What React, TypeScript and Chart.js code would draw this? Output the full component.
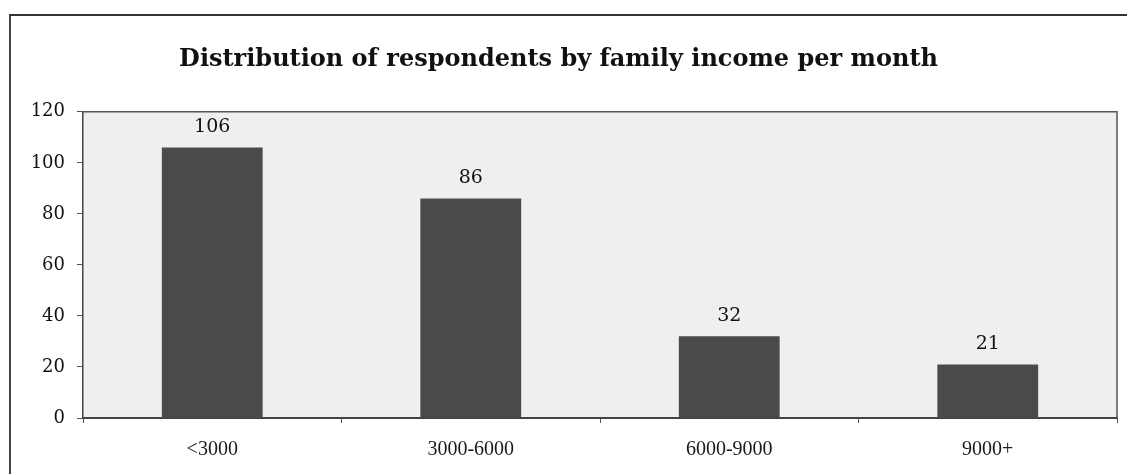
import React, { useEffect, useRef } from "react";
import { Chart, registerables } from "chart.js";

Chart.register(...registerables);

const TITLE = "Distribution of respondents by family income per month";
const categories = ["<3000", "3000-6000", "6000-9000", "9000+"];
const respondents = [106, 86, 32, 21];
const yTicks = [0, 20, 40, 60, 80, 100, 120];

const plotBg = {
  id: "plotBg",
  beforeDraw(chart: any) {
    const { ctx, chartArea: a } = chart;
    ctx.save();
    ctx.fillStyle = "#efefef";
    ctx.fillRect(a.left, a.top, a.right - a.left, a.bottom - a.top);
    ctx.restore();
  },
  afterDraw(chart: any) {
    const { ctx, chartArea: a } = chart;
    ctx.save();
    ctx.strokeStyle = "#555";
    ctx.lineWidth = 1.5;
    ctx.beginPath();
    ctx.moveTo(a.left, a.top);
    ctx.lineTo(a.right, a.top);
    ctx.lineTo(a.right, a.bottom);
    ctx.stroke();
    ctx.restore();
  },
};

const valueLabels = {
  id: "valueLabels",
  afterDatasetsDraw(chart: any) {
    const { ctx } = chart;
    const meta = chart.getDatasetMeta(0);
    ctx.save();
    ctx.fillStyle = "#111";
    ctx.font = "19px 'DejaVu Serif'";
    ctx.textAlign = "center";
    ctx.textBaseline = "bottom";
    meta.data.forEach((bar: any, i: number) => {
      ctx.fillText(String(chart.data.datasets[0].data[i]), bar.x, bar.y - 11);
    });
    ctx.restore();
  },
};

export default function App() {
  const ref = useRef<HTMLCanvasElement>(null);
  useEffect(() => {
    document.body.style.margin = "0";
    const chart = new Chart(ref.current!, {
      type: "bar",
      data: {
        labels: categories,
        datasets: [
          {
            data: respondents,
            backgroundColor: "#4a4a4a",
            borderColor: "#444",
            borderWidth: 0,
            categoryPercentage: 1,
            barPercentage: 0.39,
          },
        ],
      },
      options: {
        animation: false,
        responsive: false,
        maintainAspectRatio: false,
        layout: { padding: { left: 0, right: 10, top: 0, bottom: 0 } },
        plugins: {
          legend: { display: false },
          tooltip: { enabled: false },
          title: {
            display: true,
            text: TITLE,
            color: "#111",
            font: { family: "'DejaVu Serif'", size: 24, weight: "bold" },
            padding: { top: 45, bottom: 38 },
          },
        },
        scales: {
          x: {
            grid: {
              display: true,
              drawOnChartArea: false,
              offset: true,
              tickLength: 5,
              color: "#555",
            },
            border: { display: true, color: "#444", width: 2 },
            ticks: {
              color: "#1a1a1a",
              font: { family: "'Liberation Serif'", size: 20 },
              padding: 15,
            },
            afterFit(scale: any) {
              scale.height = 56;
            },
          },
          y: {
            min: 0,
            max: 120,
            afterBuildTicks(scale: any) {
              scale.ticks = yTicks.map((v) => ({ value: v }));
            },
            grid: {
              display: true,
              drawOnChartArea: false,
              tickLength: 6,
              color: "#555",
            },
            border: { display: true, color: "#444", width: 1.5 },
            ticks: {
              color: "#111",
              font: { family: "'DejaVu Serif'", size: 18 },
              padding: 12,
            },
            afterFit(scale: any) {
              scale.width = 83;
            },
          },
        },
      },
      plugins: [plotBg, valueLabels],
    });
    return () => chart.destroy();
  }, []);
  return (
    <div style={{ position: "relative", width: 1127, height: 474, background: "#fff" }}>
      <div
        style={{
          position: "absolute",
          left: 9,
          top: 14,
          right: 0,
          bottom: 0,
          borderTop: "2px solid #333",
          borderLeft: "2px solid #444",
        }}
      />
      <canvas ref={ref} width={1127} height={474} style={{ position: "absolute", left: 0, top: 0 }} />
    </div>
  );
}
